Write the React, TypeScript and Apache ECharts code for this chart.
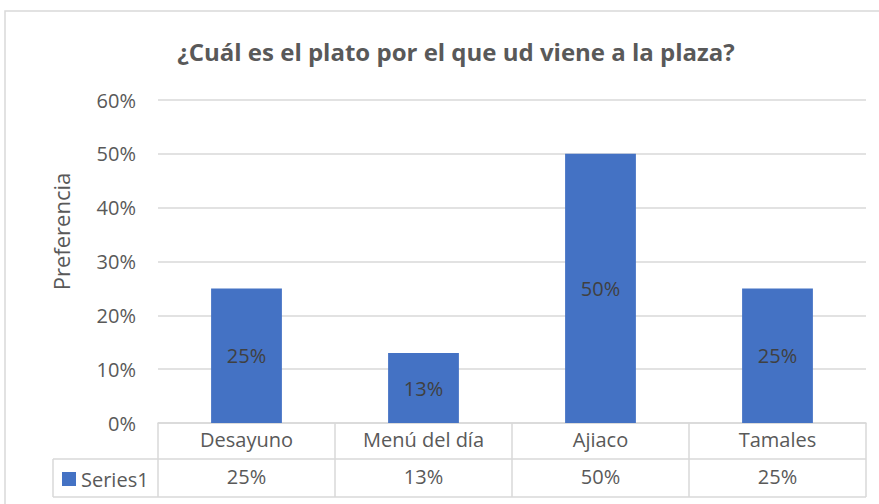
import React, { useEffect, useRef } from "react";
import * as echarts from "echarts";

const categories = ["Desayuno", "Menú del día", "Ajiaco", "Tamales"];
const values = [0.25, 0.13, 0.5, 0.25];
const seriesName = "Series1";
const yTicks = [0, 0.1, 0.2, 0.3, 0.4, 0.5, 0.6];

const pct = (v: number) => `${Math.round(v * 100)}%`;

const FONT = "'Open Sans', 'Noto Sans', sans-serif";
const TXT = "#595959";
const LINE = "#d9d9d9";

export default function App() {
  const ref = useRef<HTMLDivElement>(null);
  useEffect(() => {
    if (!ref.current) return;
    const chart = echarts.init(ref.current, undefined, { renderer: "svg" });
    const gLeft = 158, gRight = 866, gTop = 100, gBottom = 423;
    const row1 = 459, row2 = 497, legLeft = 53;
    chart.setOption({
      animation: false,
      textStyle: { fontFamily: FONT },
      title: {
        text: "¿Cuál es el plato por el que ud viene a la plaza?",
        left: 451,
        top: 34,
        textAlign: "center",
        textStyle: { fontFamily: FONT, fontSize: 24, fontWeight: "bold", color: TXT },
      },
      legend: {
        data: [seriesName],
        left: 62,
        top: 469,
        icon: "rect",
        itemWidth: 14,
        itemHeight: 14,
        itemGap: 0,
        textStyle: { fontFamily: FONT, fontSize: 20, color: TXT, padding: [0, 0, 0, 0] },
        padding: 0,
      },
      grid: { left: gLeft, right: 879 - gRight, top: gTop, bottom: 504 - gBottom, containLabel: false },
      xAxis: [
        {
          type: "category",
          data: categories,
          position: "bottom",
          axisLine: { show: true, lineStyle: { color: LINE, width: 1.5 } },
          axisTick: { show: true, length: row2 - gBottom, lineStyle: { color: LINE, width: 1.5 } },
          axisLabel: { fontFamily: FONT, fontSize: 20, color: TXT, margin: 6, interval: 0 },
        },
        {
          type: "category",
          data: values.map(pct),
          position: "bottom",
          axisLine: { show: false },
          axisTick: { show: false },
          axisLabel: { fontFamily: FONT, fontSize: 20, color: TXT, margin: 43, interval: 0 },
        },
      ],
      yAxis: {
        type: "value",
        min: 0,
        max: 0.6,
        interval: 0.1,
        name: "Preferencia",
        nameLocation: "middle",
        nameGap: 86,
        nameRotate: 90,
        nameTextStyle: { fontFamily: FONT, fontSize: 22, color: TXT, padding: [0, 0, 0, 60] },
        axisLine: { show: false },
        axisTick: { show: false },
        splitLine: { lineStyle: { color: LINE, width: 1.5 } },
        axisLabel: {
          fontFamily: FONT,
          fontSize: 20,
          color: TXT,
          margin: 22,
          formatter: (v: number) => (yTicks.some((t) => Math.abs(t - v) < 1e-9) ? pct(v) : ""),
        },
      },
      series: [
        {
          name: seriesName,
          type: "bar",
          data: values,
          barWidth: "40%",
          itemStyle: { color: "#4472c4" },
          label: {
            show: true,
            position: "inside",
            formatter: (p: any) => pct(p.value),
            fontFamily: FONT,
            fontSize: 20,
            color: "#404040",
          },
        },
      ],
      graphic: [
        { type: "rect", shape: { x: 5, y: 11, width: 900, height: 520 }, style: { fill: "none", stroke: LINE, lineWidth: 1.5 }, silent: true },
        { type: "line", shape: { x1: legLeft, y1: row1, x2: gRight, y2: row1 }, style: { stroke: LINE, lineWidth: 1.5 } },
        { type: "line", shape: { x1: legLeft, y1: row2, x2: gRight, y2: row2 }, style: { stroke: LINE, lineWidth: 1.5 } },
        { type: "line", shape: { x1: legLeft, y1: row1, x2: legLeft, y2: row2 }, style: { stroke: LINE, lineWidth: 1.5 } },
      ],
    });
    return () => chart.dispose();
  }, []);
  return <div ref={ref} style={{ width: 879, height: 504, position: "absolute", left: 0, top: 0 }} />;
}
